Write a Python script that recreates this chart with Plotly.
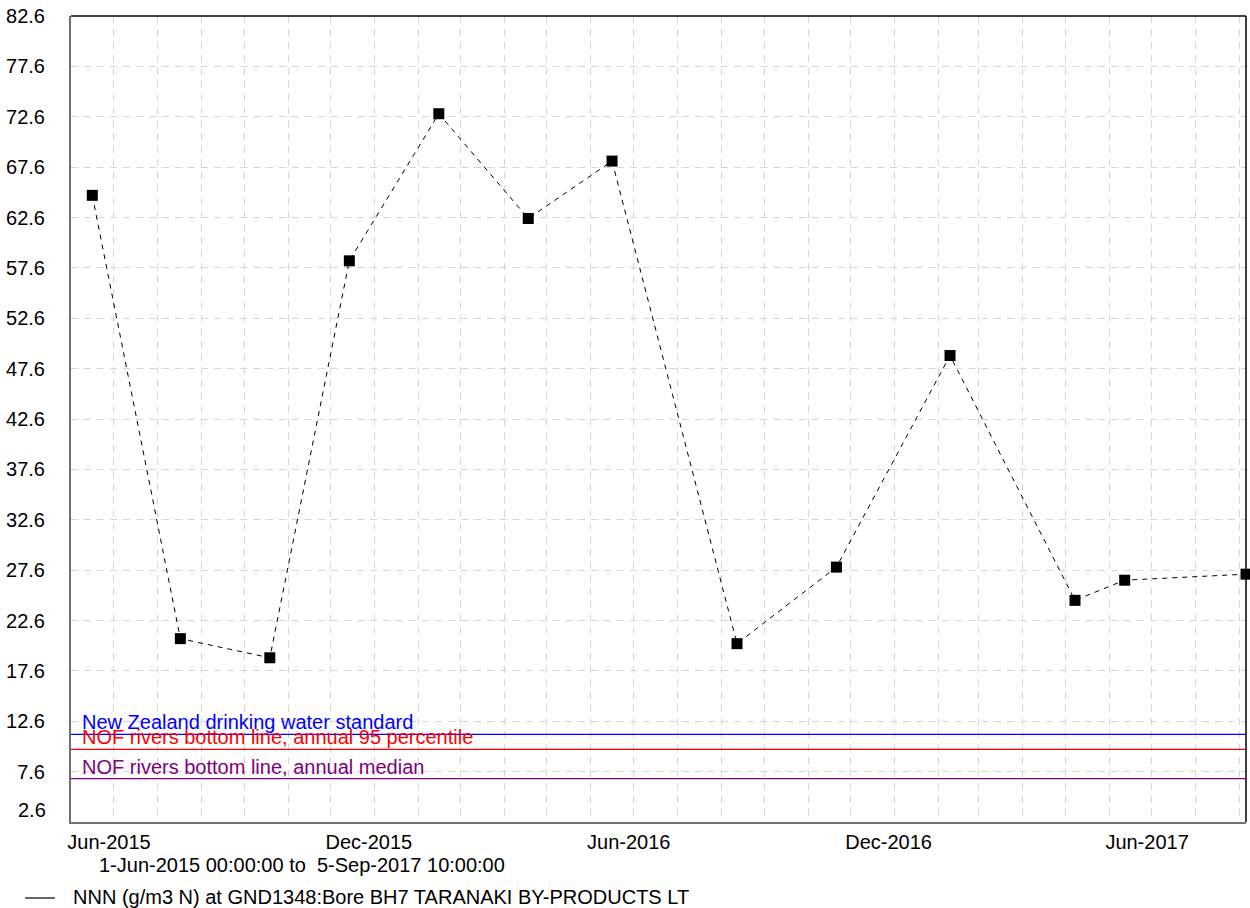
import plotly.graph_objects as go

# Sample dates and NNN concentrations (g/m3 N)
sample_dates = [
    "2015-06-16", "2015-08-17", "2015-10-19", "2015-12-14", "2016-02-15",
    "2016-04-18", "2016-06-16", "2016-09-12", "2016-11-21", "2017-02-09",
    "2017-05-08", "2017-06-12", "2017-09-05 10:00",
]
nnn_values = [64.8, 20.8, 18.9, 58.3, 72.9, 62.5, 68.2, 20.3, 27.9, 48.9, 24.6, 26.6, 27.2]

# Guideline levels
guide_names = [
    "New Zealand drinking water standard",
    "NOF rivers bottom line, annual 95 percentile",
    "NOF rivers bottom line, annual median",
]
guide_values = [11.3, 9.8, 6.9]
guide_colors = ["#0000ff", "#ff0000", "#800080"]

x_start = "2015-06-01 00:00:00"
x_end = "2017-09-05 10:00:00"
y_ticks = [2.6 + 5 * i for i in range(17)]
y_tick_labels = [f"{v:.1f}" for v in y_ticks]

period_text = "1-Jun-2015 00:00:00 to\u00a0\u00a05-Sep-2017 10:00:00"
series_label = "NNN (g/m3 N) at GND1348:Bore BH7 TARANAKI BY-PRODUCTS LT"

FONT = "Arial, Liberation Sans, sans-serif"
FS = 20
W, H = 1250, 908
ML, MR, MT, MB = 71, 4, 16, 86
PW = W - ML - MR
PH = H - MT - MB

fig = go.Figure()

fig.add_trace(go.Scatter(
    x=sample_dates, y=nnn_values,
    mode="lines+markers",
    line=dict(color="black", width=1, dash="5px,5px"),
    marker=dict(symbol="square", size=11, color="black"),
    showlegend=False, cliponaxis=False,
))

shapes = []
annotations = []
for name, val, col in zip(guide_names, guide_values, guide_colors):
    shapes.append(dict(type="line", xref="paper", yref="y", x0=0, x1=1, y0=val, y1=val,
                       line=dict(color=col, width=1.2), layer="above"))
    annotations.append(dict(text=name, xref="paper", yref="y", x=9 / PW, y=val,
                            xanchor="left", yanchor="bottom", showarrow=False,
                            font=dict(family=FONT, size=FS, color=col),
                            yshift=-1))

# Lowest y tick label sits just above the bottom axis line
annotations.append(dict(text=y_tick_labels[0], xref="paper", yref="y",
                        x=-23 / PW, y=y_ticks[0], yshift=12,
                        xanchor="right", yanchor="middle", showarrow=False,
                        font=dict(family=FONT, size=FS, color="black")))
shown_tick_text = [""] + y_tick_labels[1:]

# Frame: top and right edges in black
shapes.append(dict(type="line", xref="paper", yref="paper", x0=0, x1=1, y0=1, y1=1,
                   line=dict(color="black", width=1.5)))
shapes.append(dict(type="line", xref="paper", yref="paper", x0=1, x1=1, y0=0, y1=1,
                   line=dict(color="black", width=1.5)))

# Date-range caption and series key below the axis
annotations.append(dict(text=period_text, xref="paper", yref="paper",
                        x=(97 - ML) / PW, y=0, yshift=-(865 - (H - MB)),
                        xanchor="left", yanchor="middle", showarrow=False,
                        font=dict(family=FONT, size=FS, color="black")))
annotations.append(dict(text=series_label, xref="paper", yref="paper",
                        x=(71 - ML) / PW, y=0, yshift=-(897 - (H - MB)),
                        xanchor="left", yanchor="middle", showarrow=False,
                        font=dict(family=FONT, size=FS, color="black")))
key_y = -(898 - (H - MB)) / PH
shapes.append(dict(type="line", xref="paper", yref="paper",
                   x0=(25 - ML) / PW, x1=(55 - ML) / PW, y0=key_y, y1=key_y,
                   line=dict(color="black", width=1.2)))

grid_style = dict(gridcolor="#d6d6d6", gridwidth=1, griddash="7px,6px")

fig.update_layout(
    width=W, height=H,
    margin=dict(l=ML, r=MR, t=MT, b=MB, pad=0),
    paper_bgcolor="white", plot_bgcolor="white",
    font=dict(family=FONT, size=FS, color="black"),
    shapes=shapes, annotations=annotations,
    xaxis=dict(
        type="date", range=[x_start, x_end],
        tick0="2015-06-01", dtick="M6", tickformat="%b-%Y",
        ticks="", ticklabelshift=38, ticklabelstandoff=1,
        showgrid=True, **grid_style,
        minor=dict(dtick="M1", tick0="2015-06-01", showgrid=True, **grid_style),
        showline=True, linecolor="#707070", linewidth=2,
        zeroline=False, tickfont=dict(family=FONT, size=FS, color="black"),
    ),
    yaxis=dict(
        range=[2.6, 82.6], tickvals=y_ticks, ticktext=shown_tick_text,
        ticks="", ticklabelstandoff=20,
        showgrid=True, **grid_style,
        showline=True, linecolor="#707070", linewidth=2,
        zeroline=False, tickfont=dict(family=FONT, size=FS, color="black"),
    ),
)

fig.write_html("out.html")
